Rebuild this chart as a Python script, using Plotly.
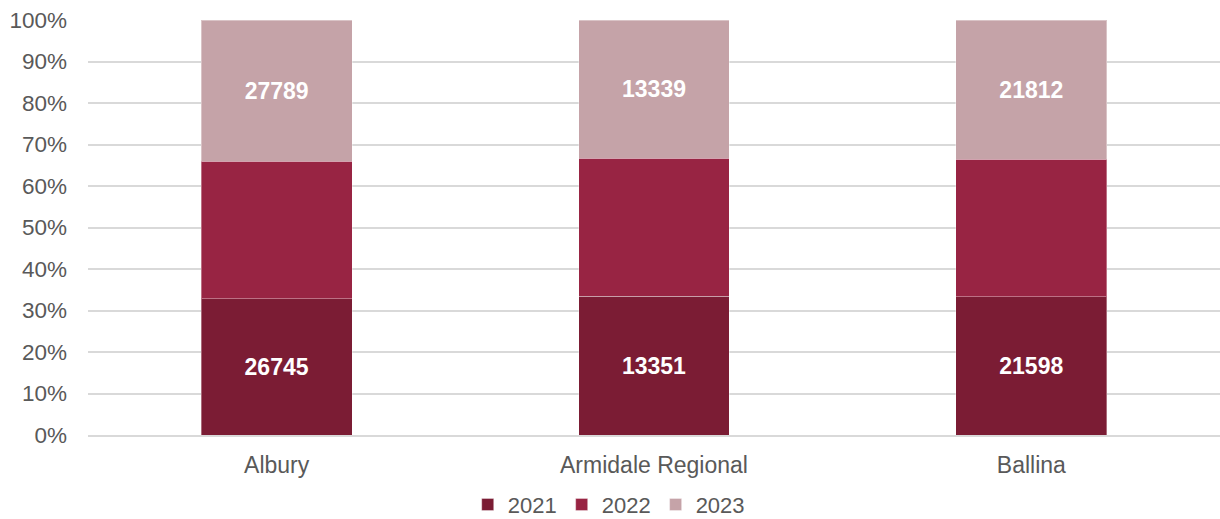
import plotly.graph_objects as go

# Council areas and yearly counts
categories = ["Albury", "Armidale Regional", "Ballina"]
years = ["2021", "2022", "2023"]
values_2021 = [26745, 13351, 21598]
values_2022 = [27046, 13300, 21535]
values_2023 = [27789, 13339, 21812]
colors = ["#7B1C34", "#982443", "#C5A3A8"]
show_labels = [True, False, True]
y_ticks = [0, 10, 20, 30, 40, 50, 60, 70, 80, 90, 100]

series = [values_2021, values_2022, values_2023]
FONT = "Liberation Sans, Arial, sans-serif"

fig = go.Figure()
for year, vals, color, lab in zip(years, series, colors, show_labels):
    fig.add_trace(go.Bar(
        name=year,
        x=categories,
        y=vals,
        marker=dict(color=color, line=dict(color="rgba(255,255,255,0.35)", width=1)),
        text=[str(v) for v in vals] if lab else None,
        texttemplate="<b>%{text}</b>" if lab else None,
        textposition="inside" if lab else "none",
        insidetextanchor="middle",
        textfont=dict(family=FONT, size=23, color="white"),
        hoverinfo="x+y+name",
    ))

fig.update_layout(
    barmode="stack",
    barnorm="percent",
    bargap=0.6,
    width=1220,
    height=519,
    margin=dict(l=88, r=0, t=20, b=84, autoexpand=False),
    plot_bgcolor="white",
    paper_bgcolor="white",
    font=dict(family=FONT, size=23, color="#595959"),
    legend=dict(
        orientation="h",
        x=0.46, xanchor="center",
        y=-0.168, yanchor="middle",
        font=dict(family=FONT, size=22, color="#595959"),
        itemwidth=30,
        traceorder="normal",
    ),
    uniformtext=dict(mode="show", minsize=12),
)

fig.update_yaxes(
    range=[0, 100],
    tickvals=y_ticks,
    ticktext=[f"{t}%" for t in y_ticks],
    showgrid=True,
    gridcolor="#D9D9D9",
    gridwidth=2,
    zeroline=False,
    showline=False,
    ticks="",
    ticklabelstandoff=20,
    tickfont=dict(family=FONT, size=22.5, color="#595959"),
    automargin=False,
)
fig.update_xaxes(
    showline=True,
    linecolor="#D9D9D9",
    linewidth=2,
    ticks="",
    tickfont=dict(family=FONT, size=23, color="#595959"),
    ticklabelstandoff=8,
    automargin=False,
)

fig.write_html("out.html")
